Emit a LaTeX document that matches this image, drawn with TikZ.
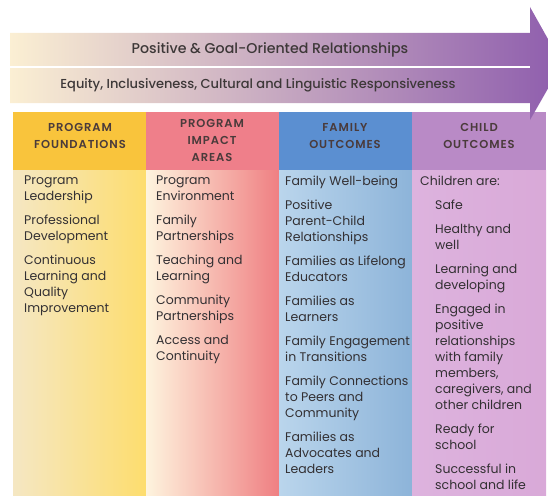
\documentclass[tikz,border=0pt]{standalone}
\usepackage{fontspec}
\setmainfont{Poppins}
\newfontfamily\headfont[LetterSpace=8]{Poppins SemiBold}
\newfontfamily\bandfont{Poppins Medium}

\definecolor{arrowL}{HTML}{FBEFD3}
\definecolor{arrowM}{HTML}{E4C3DA}
\definecolor{arrowR}{HTML}{8E5DAD}
\definecolor{headA}{HTML}{F9C43C}
\definecolor{headB}{HTML}{EF7F8A}
\definecolor{headC}{HTML}{5B8FD1}
\definecolor{headD}{HTML}{B98AC6}
\definecolor{bodyAl}{HTML}{F5E7C3}
\definecolor{bodyAr}{HTML}{FDDD6E}
\definecolor{bodyBl}{HTML}{FEF4DE}
\definecolor{bodyBr}{HTML}{EF7F82}
\definecolor{bodyCl}{HTML}{BAD5EC}
\definecolor{bodyCr}{HTML}{8DB4D9}
\definecolor{bodyDl}{HTML}{DDB3DE}
\definecolor{bodyDr}{HTML}{D9A9D8}
\definecolor{headtext}{HTML}{4A3B3B}
\definecolor{bandcol}{HTML}{3D3838}
\definecolor{bodytext}{HTML}{333033}

\begin{document}
\begin{tikzpicture}[x=1pt, y=-1pt,
    colhead/.style={font=\headfont\fontsize{11.5}{17}\selectfont, align=center, text=headtext, inner sep=0pt},
    colbody/.style={font=\fontsize{12.5}{16}\selectfont, align=left, anchor=north west, inner sep=0pt, text=bodytext},
    bandtext/.style={text=bandcol, inner sep=0pt}]
  \useasboundingbox (0,0) rectangle (548,495);
  \clip (0,0) rectangle (548,495);
  % columns
  \fill[headA] (13,112) rectangle (146,170);
  \shade[left color=bodyAl, right color=bodyAr] (13,170) rectangle (146,495);
  \fill[headB] (146,112) rectangle (279,170);
  \shade[left color=bodyBl, right color=bodyBr] (146,170) rectangle (279,495);
  \fill[headC] (279,112) rectangle (412,170);
  \shade[left color=bodyCl, right color=bodyCr] (279,170) rectangle (412,495);
  \fill[headD] (412,112) rectangle (546,170);
  \shade[left color=bodyDl, right color=bodyDr] (412,170) rectangle (546,495);
  % the big arrow
  \shade[left color=arrowL, middle color=arrowM, right color=arrowR]
    (10,33) -- (530,33) -- (530,7) -- (562,64) -- (530,120) -- (530,103) -- (10,103) -- cycle;
  \draw[white, line width=1.5pt] (10,67) -- (530,67);
  \node[bandtext, font=\bandfont\fontsize{14.2}{16}\selectfont] (relations) at (270,50) {Positive \& Goal-Oriented Relationships};
  \node[bandtext, font=\bandfont\fontsize{13}{15}\selectfont] (equity) at (258,85) {Equity, Inclusiveness, Cultural and Linguistic Responsiveness};
  % headers
  \node[colhead] (found-head) at (80,136) {PROGRAM\\FOUNDATIONS};
  \node[colhead] (impact-head) at (212,140) {PROGRAM\\IMPACT\\AREAS};
  \node[colhead] (family-head) at (345,136) {FAMILY\\OUTCOMES};
  \node[colhead] (child-head) at (479,136) {CHILD\\OUTCOMES};
  % column text
  \node[colbody] (found-list) at (24,176) {Program\\Leadership\\[8pt]
    Professional\\Development\\[8pt]
    Continuous\\Learning and\\Quality\\Improvement};
  \node[colbody] (impact-list) at (156,176) {Program\\Environment\\[8pt]
    Family\\Partnerships\\[8pt]
    Teaching and\\Learning\\[8pt]
    Community\\Partnerships\\[8pt]
    Access and\\Continuity};
  \node[colbody] (family-list) at (285,176) {Family Well-being\\[8pt]
    Positive\\Parent-Child\\Relationships\\[8pt]
    Families as Lifelong\\Educators\\[8pt]
    Families as\\Learners\\[8pt]
    Family Engagement\\in Transitions\\[8pt]
    Family Connections\\to Peers and\\Community\\[8pt]
    Families as\\Advocates and\\Leaders};
  \node[colbody] (child-intro) at (420,176) {Children are:};
  \node[colbody] (child-list) at (435,200) {Safe\\[8pt]
    Healthy and\\well\\[8pt]
    Learning and\\developing\\[8pt]
    Engaged in\\positive\\relationships\\with family\\members,\\caregivers, and\\other children\\[8pt]
    Ready for\\school\\[8pt]
    Successful in\\school and life};
\end{tikzpicture}
\end{document}
